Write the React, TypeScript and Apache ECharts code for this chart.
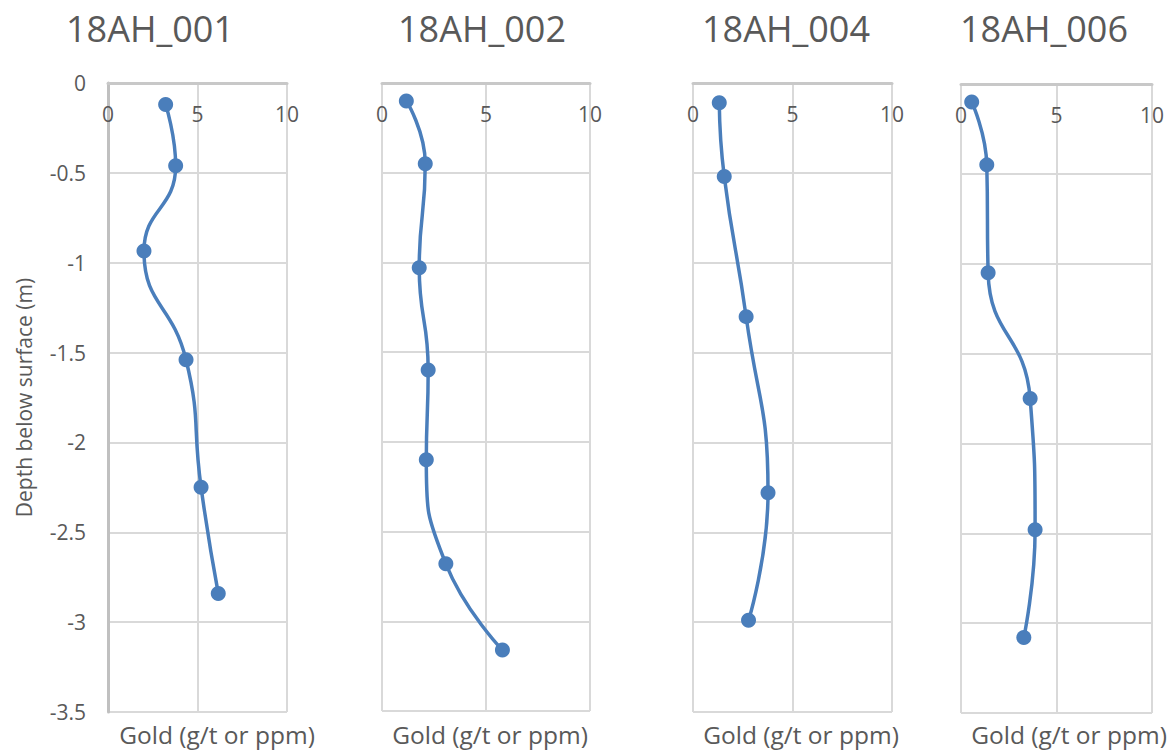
import React, { useEffect, useRef } from "react";
import * as echarts from "echarts";

const holeNames = ["18AH_001", "18AH_002", "18AH_004", "18AH_006"];

const gold001 = [3.22, 3.78, 2.01, 4.36, 5.2, 6.16];
const depth001 = [-0.12, -0.46, -0.935, -1.54, -2.25, -2.84];
const gold002 = [1.17, 2.08, 1.79, 2.22, 2.13, 3.07, 5.79];
const depth002 = [-0.1, -0.45, -1.03, -1.6, -2.1, -2.68, -3.16];
const gold004 = [1.32, 1.57, 2.67, 3.77, 2.79];
const depth004 = [-0.11, -0.52, -1.3, -2.28, -2.99];
const gold006 = [0.56, 1.35, 1.42, 3.62, 3.88, 3.29];
const depth006 = [-0.1, -0.45, -1.05, -1.75, -2.48, -3.08];

const goldTicks = [0, 5, 10];
const depthTicks = [0, -0.5, -1, -1.5, -2, -2.5, -3, -3.5];

const yAxisName = "Depth below surface (m)";
const xAxisName = "Gold (g/t or ppm)";

const FONT = "Open Sans";
const TEXT = "#595959";
const GRIDLINE = "#d9d9d9";
const BLUE = "#4a7ebb";

const grids = [
  { left: 108, top: 83, width: 179, height: 629 },
  { left: 382, top: 83, width: 208, height: 628 },
  { left: 693, top: 83, width: 199, height: 629 },
  { left: 961, top: 84, width: 191, height: 629 },
];
const titleX = [150, 482, 786, 1044];
const nameX = [217, 490, 801, 1069];

export default function App() {
  const ref = useRef<HTMLDivElement>(null);
  useEffect(() => {
    if (!ref.current) return;
    const chart = echarts.init(ref.current, undefined, { renderer: "svg" });
    const golds = [gold001, gold002, gold004, gold006];
    const depths = [depth001, depth002, depth004, depth006];
    const gMin = goldTicks[0];
    const gMax = goldTicks[goldTicks.length - 1];
    const gStep = goldTicks[1] - goldTicks[0];
    const dMax = depthTicks[0];
    const dMin = depthTicks[depthTicks.length - 1];
    const dStep = depthTicks[0] - depthTicks[1];

    const option: any = {
      animation: false,
      backgroundColor: "#ffffff",
      grid: grids.map((g) => ({ ...g, containLabel: false })),
      xAxis: grids.map((_, i) => ({
        type: "value",
        gridIndex: i,
        position: "top",
        min: gMin,
        max: gMax,
        interval: gStep,
        axisLine: { show: true, lineStyle: { color: "#c8c8c8", width: 3 } },
        axisTick: { show: false },
        axisLabel: {
          show: true,
          inside: true,
          margin: 20,
          color: TEXT,
          fontFamily: FONT,
          fontSize: 21,
          showMinLabel: true,
          showMaxLabel: true,
        },
        splitLine: { show: true, lineStyle: { color: GRIDLINE, width: 2 } },
      })),
      yAxis: grids.map((_, i) => ({
        type: "value",
        gridIndex: i,
        min: dMin,
        max: dMax,
        interval: dStep,
        name: i === 0 ? yAxisName : "",
        nameLocation: "middle",
        nameGap: 74,
        nameTextStyle: { color: TEXT, fontFamily: FONT, fontSize: 21 },
        axisLine: {
          show: i === 0,
          lineStyle: { color: "#c0c0c0", width: 3 },
        },
        axisTick: { show: false },
        axisLabel: {
          show: i === 0,
          margin: 22,
          color: TEXT,
          fontFamily: FONT,
          fontSize: 21,
        },
        splitLine: { show: true, lineStyle: { color: GRIDLINE, width: 2 } },
      })),
      series: grids.map((_, i) => ({
        type: "line",
        name: holeNames[i],
        xAxisIndex: i,
        yAxisIndex: i,
        data: golds[i].map((g, k) => [g, depths[i][k]]),
        smooth: 0.5,
        symbol: "circle",
        symbolSize: 15,
        lineStyle: { color: BLUE, width: 3.5 },
        itemStyle: { color: BLUE },
      })),
      graphic: [
        ...holeNames.map((t, i) => ({
          type: "text",
          x: titleX[i],
          y: 28,
          style: {
            text: t,
            fill: TEXT,
            font: `36px "${FONT}"`,
            textAlign: "center",
            textVerticalAlign: "middle",
          },
        })),
        ...holeNames.map((_, i) => ({
          type: "text",
          x: nameX[i],
          y: 734,
          style: {
            text: xAxisName,
            fill: TEXT,
            font: `24.5px "${FONT}"`,
            textAlign: "center",
            textVerticalAlign: "middle",
          },
        })),
      ],
    };
    chart.setOption(option);
    return () => chart.dispose();
  }, []);
  return (
    <div
      ref={ref}
      style={{ position: "fixed", left: 0, top: 0, width: 1173, height: 750, background: "#fff" }}
    />
  );
}
